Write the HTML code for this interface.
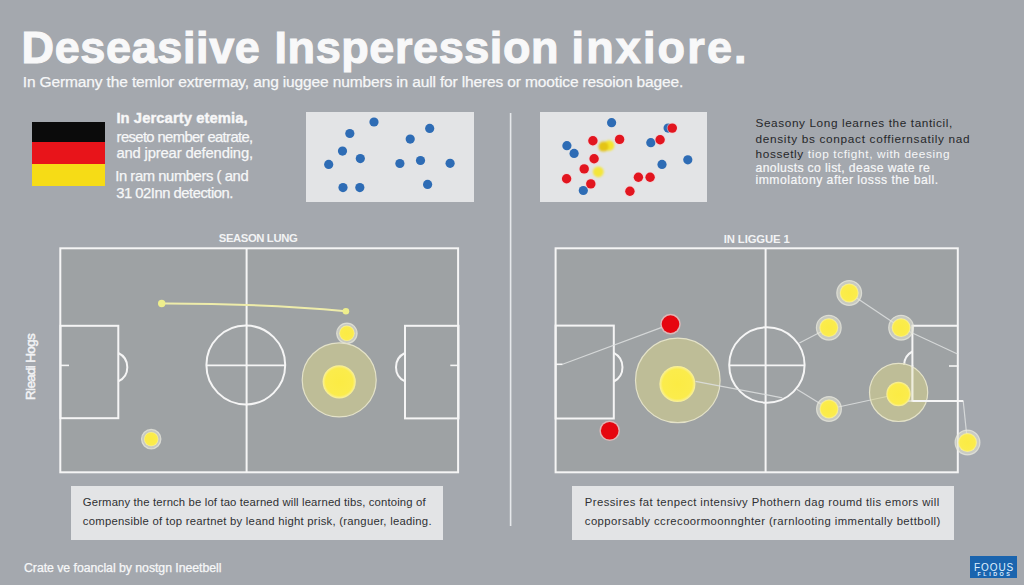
<!DOCTYPE html>
<html><head><meta charset="utf-8">
<style>
html,body{margin:0;padding:0;}
body{width:1024px;height:585px;overflow:hidden;position:relative;background:#a4a8ae;font-family:"Liberation Sans",sans-serif;}
.a{position:absolute;white-space:nowrap;line-height:1;}
.flag{position:absolute;left:31.6px;width:73.3px;}
.box{position:absolute;background:#e3e4e6;}
</style></head>
<body>
<div class="flag" style="top:122px;height:19.6px;background:#0b0b0b"></div>
<div class="flag" style="top:141.6px;height:22px;background:#e8141a"></div>
<div class="flag" style="top:163.6px;height:22px;background:#f6dc16"></div>
<svg style="position:absolute;left:0;top:0" width="1024" height="585">
<defs><radialGradient id="yg"><stop offset="0" stop-color="#fbeb44"/><stop offset="0.82" stop-color="#fbec4c"/><stop offset="1" stop-color="#f8f0a0"/></radialGradient><filter id="bl" x="-50%" y="-50%" width="200%" height="200%"><feGaussianBlur stdDeviation="1.1"/></filter></defs>
<rect x="306" y="112" width="168" height="90" fill="#e3e4e6"/>
<rect x="540" y="112" width="167" height="90" fill="#e3e4e6"/>
<circle cx="374" cy="122" r="4.6" fill="#2e6cb5"/>
<circle cx="349.8" cy="133.5" r="4.6" fill="#2e6cb5"/>
<circle cx="429.7" cy="128.4" r="4.6" fill="#2e6cb5"/>
<circle cx="410.2" cy="139.1" r="4.6" fill="#2e6cb5"/>
<circle cx="342.5" cy="151.1" r="4.6" fill="#2e6cb5"/>
<circle cx="360.3" cy="158.6" r="4.6" fill="#2e6cb5"/>
<circle cx="328.7" cy="164.4" r="4.6" fill="#2e6cb5"/>
<circle cx="399.9" cy="163.5" r="4.6" fill="#2e6cb5"/>
<circle cx="420.5" cy="160.5" r="4.6" fill="#2e6cb5"/>
<circle cx="450.1" cy="163.3" r="4.6" fill="#2e6cb5"/>
<circle cx="343" cy="187.6" r="4.6" fill="#2e6cb5"/>
<circle cx="359.8" cy="187.6" r="4.6" fill="#2e6cb5"/>
<circle cx="427.6" cy="184.4" r="4.6" fill="#2e6cb5"/>
<circle cx="611.6" cy="122.7" r="4.6" fill="#2e6cb5"/>
<circle cx="566.9" cy="145.7" r="4.6" fill="#2e6cb5"/>
<circle cx="574.1" cy="153.4" r="4.6" fill="#2e6cb5"/>
<circle cx="650.8" cy="142.7" r="4.6" fill="#2e6cb5"/>
<circle cx="668.1" cy="128.1" r="4.6" fill="#2e6cb5"/>
<circle cx="662" cy="164.4" r="4.6" fill="#2e6cb5"/>
<circle cx="687.8" cy="159.8" r="4.6" fill="#2e6cb5"/>
<circle cx="583.3" cy="190.5" r="4.6" fill="#2e6cb5"/>
<circle cx="592.9" cy="140.8" r="5.6" fill="rgba(250,200,205,0.55)"/><circle cx="592.9" cy="140.8" r="4.7" fill="#e2151f"/>
<circle cx="619.6" cy="139.4" r="5.6" fill="rgba(250,200,205,0.55)"/><circle cx="619.6" cy="139.4" r="4.7" fill="#e2151f"/>
<circle cx="672.3" cy="128.1" r="5.6" fill="rgba(250,200,205,0.55)"/><circle cx="672.3" cy="128.1" r="4.7" fill="#e2151f"/>
<circle cx="660.1" cy="139.8" r="5.6" fill="rgba(250,200,205,0.55)"/><circle cx="660.1" cy="139.8" r="4.7" fill="#e2151f"/>
<circle cx="594.1" cy="158.8" r="5.6" fill="rgba(250,200,205,0.55)"/><circle cx="594.1" cy="158.8" r="4.7" fill="#e2151f"/>
<circle cx="584.2" cy="168.9" r="5.6" fill="rgba(250,200,205,0.55)"/><circle cx="584.2" cy="168.9" r="4.7" fill="#e2151f"/>
<circle cx="566.6" cy="178.7" r="5.6" fill="rgba(250,200,205,0.55)"/><circle cx="566.6" cy="178.7" r="4.7" fill="#e2151f"/>
<circle cx="590.8" cy="183.9" r="5.6" fill="rgba(250,200,205,0.55)"/><circle cx="590.8" cy="183.9" r="4.7" fill="#e2151f"/>
<circle cx="638.4" cy="177.3" r="5.6" fill="rgba(250,200,205,0.55)"/><circle cx="638.4" cy="177.3" r="4.7" fill="#e2151f"/>
<circle cx="650.1" cy="177.3" r="5.6" fill="rgba(250,200,205,0.55)"/><circle cx="650.1" cy="177.3" r="4.7" fill="#e2151f"/>
<circle cx="629.9" cy="191.2" r="5.6" fill="rgba(250,200,205,0.55)"/><circle cx="629.9" cy="191.2" r="4.7" fill="#e2151f"/>
<g filter="url(#bl)"><circle cx="609" cy="145.5" r="5.3" fill="#f5e62e"/><circle cx="603.5" cy="146.6" r="5" fill="#e4c414"/><circle cx="598.3" cy="171.8" r="5.4" fill="#f4e63a"/></g>
<rect x="509.8" y="113" width="1.6" height="413" fill="#e6e8eb"/>
<g fill="none" stroke="#f5f5f5" stroke-width="2">
<rect x="60.3" y="248.3" width="397.8" height="224" fill="#9ea2a4"/>
<line x1="246.6" y1="248.3" x2="246.6" y2="472.3"/>
<circle cx="245.8" cy="365" r="39.4"/>
<line x1="206.5" y1="365.4" x2="285.2" y2="365.4" stroke-width="1.7"/>
<rect x="60.5" y="325.8" width="57.8" height="92.4"/>
<path d="M118.3 353 A15.7 15.7 0 0 1 118.3 381.4"/>
<line x1="60.5" y1="365.4" x2="69" y2="365.4" stroke-width="1.6"/>
<rect x="405" y="325.8" width="53.5" height="92.6"/>
<path d="M405 353 A15.7 15.7 0 0 0 405 381.4"/>
<line x1="450.3" y1="365.4" x2="458.5" y2="365.4" stroke-width="1.6"/>
</g>
<g fill="none" stroke="#f5f5f5" stroke-width="2">
<rect x="555.6" y="248.3" width="402.2" height="224" fill="#9ea2a4"/>
<line x1="765.6" y1="248.3" x2="765.6" y2="472.3"/>
<circle cx="766.9" cy="365" r="37.7"/>
<line x1="729.3" y1="365.3" x2="804.5" y2="365.3" stroke-width="1.7"/>
<rect x="555.6" y="325.6" width="58.2" height="92.9"/>
<path d="M613.8 352.8 A16.2 16.2 0 0 1 613.8 381.5"/>
<line x1="555.6" y1="364.3" x2="562.6" y2="364.3" stroke-width="1.6"/>
<path d="M957.8 325.8 H912.4 V401 H963.2"/>
<path d="M912.4 351.5 A16 16 0 0 0 904 365"/>
<line x1="949" y1="366" x2="958.3" y2="366" stroke-width="1.6"/>
</g>
<path d="M161.7 303.5 Q 260 303.3 345.9 311.2" stroke="#eeecaa" stroke-width="2" fill="none"/>
<circle cx="161.7" cy="303.5" r="3.7" fill="#eeee8c"/>
<circle cx="345.9" cy="311.3" r="3.3" fill="#eeee8c"/>
<circle cx="346.9" cy="333.3" r="10.200000000000001" fill="rgba(226,226,210,0.62)" stroke="rgba(235,235,225,0.7)" stroke-width="1.2"/><circle cx="346.9" cy="333.3" r="7.7" fill="url(#yg)"/>
<circle cx="339.2" cy="379.9" r="37" fill="rgba(215,210,140,0.56)" stroke="#e4e2c8" stroke-width="1.2"/>
<circle cx="339.2" cy="381.8" r="16.6" fill="url(#yg)"/>
<circle cx="151.2" cy="439.1" r="9.700000000000001" fill="rgba(226,226,210,0.62)" stroke="rgba(235,235,225,0.7)" stroke-width="1.2"/><circle cx="151.2" cy="439.1" r="7.2" fill="url(#yg)"/>
<g stroke="rgba(222,224,224,0.85)" stroke-width="1.2" fill="none">
<line x1="562.6" y1="364.3" x2="670.5" y2="324.1"/>
<line x1="849.2" y1="293" x2="901.1" y2="327.7"/>
<line x1="828.8" y1="327.7" x2="799.4" y2="343"/>
<line x1="901.1" y1="327.7" x2="957.5" y2="354"/>
<line x1="829" y1="409" x2="898.5" y2="394"/>
<line x1="796.8" y1="389.2" x2="829" y2="409"/>
<line x1="963.2" y1="401" x2="967.5" y2="442.5"/>
</g>
<circle cx="677.8" cy="380.4" r="42.3" fill="rgba(215,210,140,0.56)" stroke="#e4e2c8" stroke-width="1.2"/>
<line x1="695.5" y1="381.3" x2="782.3" y2="397.8" stroke="rgba(222,224,224,0.85)" stroke-width="1.2"/>
<circle cx="677.4" cy="384" r="18" fill="url(#yg)"/>
<circle cx="670.5" cy="324.1" r="10.3" fill="rgba(240,190,190,0.75)"/>
<circle cx="670.5" cy="324.1" r="8.8" fill="#e6060f"/>
<circle cx="609.7" cy="430.8" r="10.3" fill="rgba(240,190,190,0.75)"/>
<circle cx="609.7" cy="430.8" r="8.8" fill="#e6060f"/>
<circle cx="898.6" cy="392.4" r="29.1" fill="rgba(215,210,140,0.56)" stroke="#e4e2c8" stroke-width="1.2"/>
<line x1="912.4" y1="365" x2="912.4" y2="401" stroke="#f5f5f5" stroke-width="2" opacity="0.6"/>
<line x1="898" y1="401" x2="912.4" y2="401" stroke="#f5f5f5" stroke-width="2" opacity="0.5"/>
<line x1="912.4" y1="401" x2="963.2" y2="401" stroke="#f5f5f5" stroke-width="2"/>
<circle cx="898.5" cy="394" r="12.2" fill="url(#yg)"/>
<circle cx="849.2" cy="293" r="12.4" fill="rgba(226,226,210,0.62)" stroke="rgba(235,235,225,0.7)" stroke-width="1.2"/><circle cx="849.2" cy="293" r="9.4" fill="url(#yg)"/>
<circle cx="828.8" cy="327.7" r="12.4" fill="rgba(226,226,210,0.62)" stroke="rgba(235,235,225,0.7)" stroke-width="1.2"/><circle cx="828.8" cy="327.7" r="9.4" fill="url(#yg)"/>
<circle cx="901.1" cy="327.7" r="12.4" fill="rgba(226,226,210,0.62)" stroke="rgba(235,235,225,0.7)" stroke-width="1.2"/><circle cx="901.1" cy="327.7" r="9.4" fill="url(#yg)"/>
<circle cx="829" cy="409" r="12.4" fill="rgba(226,226,210,0.62)" stroke="rgba(235,235,225,0.7)" stroke-width="1.2"/><circle cx="829" cy="409" r="9.4" fill="url(#yg)"/>
<circle cx="967.5" cy="442.5" r="12.4" fill="rgba(226,226,210,0.62)" stroke="rgba(235,235,225,0.7)" stroke-width="1.2"/><circle cx="967.5" cy="442.5" r="9.4" fill="url(#yg)"/>
</svg>
<div class="box" style="left:70.5px;top:485.8px;width:372.5px;height:54.6px;"></div>
<div class="box" style="left:571.8px;top:485.5px;width:381.9px;height:54.8px;"></div>
<div style="position:absolute;left:970.2px;top:556.4px;width:47px;height:21.4px;background:#1a64ae;"></div>
<div style="position:absolute;left:24px;top:400px;transform-origin:0 0;transform:rotate(-90deg);font-size:13.5px;color:#f1f2f4;-webkit-text-stroke:0.5px #f1f2f4;white-space:nowrap;line-height:1;letter-spacing:-0.68px;">Rieadi Hogs</div>
<div style="position:absolute;left:970.2px;top:556.4px;width:47px;height:22px;text-align:center;color:#dff0ff;line-height:1;">
<div style="font-size:10px;margin-top:6.4px;letter-spacing:0.9px;padding-left:0.9px;">FOOUS</div>
<div style="font-size:5.4px;font-weight:bold;letter-spacing:2.5px;padding-left:2.5px;margin-top:-0.4px;">FLIDOS</div>
</div>
<div class="a" style="left:21.60px;top:24.90px;font-size:45px;font-weight:bold;color:#f8f8f9;letter-spacing:0.615px;-webkit-text-stroke:1.1px #f8f8f9;">Deseasiive</div>
<div class="a" style="left:274.50px;top:24.90px;font-size:45px;font-weight:bold;color:#f8f8f9;letter-spacing:0.580px;-webkit-text-stroke:1.1px #f8f8f9;">Insperession</div>
<div class="a" style="left:571.50px;top:24.90px;font-size:45px;font-weight:bold;color:#f8f8f9;letter-spacing:2.151px;-webkit-text-stroke:1.1px #f8f8f9;">inxiore.</div>
<div class="a" style="left:22.80px;top:74.18px;font-size:15.5px;font-weight:normal;color:#f6f7f8;letter-spacing:-0.136px;-webkit-text-stroke:0.25px #f6f7f8;">In Germany the temlor extrermay, ang iuggee numbers in aull for lheres or mootice resoion bagee.</div>
<div class="a" style="left:116.40px;top:110.97px;font-size:14.8px;font-weight:bold;color:#f7f7f8;letter-spacing:0.070px;-webkit-text-stroke:0.4px #f7f7f8;">In Jercarty etemia,</div>
<div class="a" style="left:116.60px;top:129.57px;font-size:14.8px;font-weight:normal;color:#f6f7f8;letter-spacing:-0.623px;-webkit-text-stroke:0.25px #f6f7f8;">reseto nember eatrate,</div>
<div class="a" style="left:116.40px;top:146.07px;font-size:14.8px;font-weight:normal;color:#f6f7f8;letter-spacing:-0.157px;-webkit-text-stroke:0.25px #f6f7f8;">and jprear defending,</div>
<div class="a" style="left:115.20px;top:168.67px;font-size:14.8px;font-weight:normal;color:#f6f7f8;letter-spacing:-0.422px;-webkit-text-stroke:0.25px #f6f7f8;">In ram numbers ( and</div>
<div class="a" style="left:116.20px;top:185.87px;font-size:14.8px;font-weight:normal;color:#f6f7f8;letter-spacing:-0.481px;-webkit-text-stroke:0.25px #f6f7f8;">31 02Inn detection.</div>
<div class="a" style="left:755.50px;top:118.41px;font-size:11.8px;font-weight:normal;color:#26272a;letter-spacing:0.597px;">Seasony Long learnes the tanticil,</div>
<div class="a" style="left:755.50px;top:134.11px;font-size:11.8px;font-weight:normal;color:#26272a;letter-spacing:0.691px;">density bs conpact coffiernsatily nad</div>
<div class="a" style="left:755.50px;top:148.91px;font-size:11.8px;font-weight:normal;color:#f6f7f8;letter-spacing:0.635px;"><span style='color:#26272a'>hossetly</span> tiop tcfight, with deesing</div>
<div class="a" style="left:755.50px;top:162.07px;font-size:12.2px;font-weight:normal;color:#f6f7f8;letter-spacing:0.370px;-webkit-text-stroke:0.2px #f6f7f8;">anolusts co list, dease wate re</div>
<div class="a" style="left:755.50px;top:174.27px;font-size:12.2px;font-weight:normal;color:#f6f7f8;letter-spacing:0.493px;-webkit-text-stroke:0.2px #f6f7f8;">immolatony after losss the ball.</div>
<div class="a" style="left:218.80px;top:233.43px;font-size:11.3px;font-weight:bold;color:#f2f3f4;letter-spacing:-0.396px;">SEASON LUNG</div>
<div class="a" style="left:723.70px;top:233.53px;font-size:11.3px;font-weight:bold;color:#f2f3f4;letter-spacing:-0.098px;">IN LIGGUE 1</div>
<div class="a" style="left:82.80px;top:497.33px;font-size:11.3px;font-weight:normal;color:#2f3033;letter-spacing:0.148px;">Germany the ternch be lof tao tearned will learned tibs, contoing of</div>
<div class="a" style="left:82.80px;top:516.13px;font-size:11.3px;font-weight:normal;color:#2f3033;letter-spacing:0.256px;">compensible of top reartnet by leand hight prisk, (ranguer, leading.</div>
<div class="a" style="left:584.80px;top:497.13px;font-size:11.3px;font-weight:normal;color:#2f3033;letter-spacing:0.429px;">Pressires fat tenpect intensivy Phothern dag roumd tlis emors will</div>
<div class="a" style="left:584.80px;top:516.13px;font-size:11.3px;font-weight:normal;color:#2f3033;letter-spacing:0.430px;">copporsably ccrecoormoonnghter (rarnlooting immentally bettboll)</div>
<div class="a" style="left:24.00px;top:561.69px;font-size:12.3px;font-weight:normal;color:#f6f7f8;letter-spacing:-0.039px;-webkit-text-stroke:0.25px #f6f7f8;">Crate ve foanclal by nostgn Ineetbell</div>
</body></html>
